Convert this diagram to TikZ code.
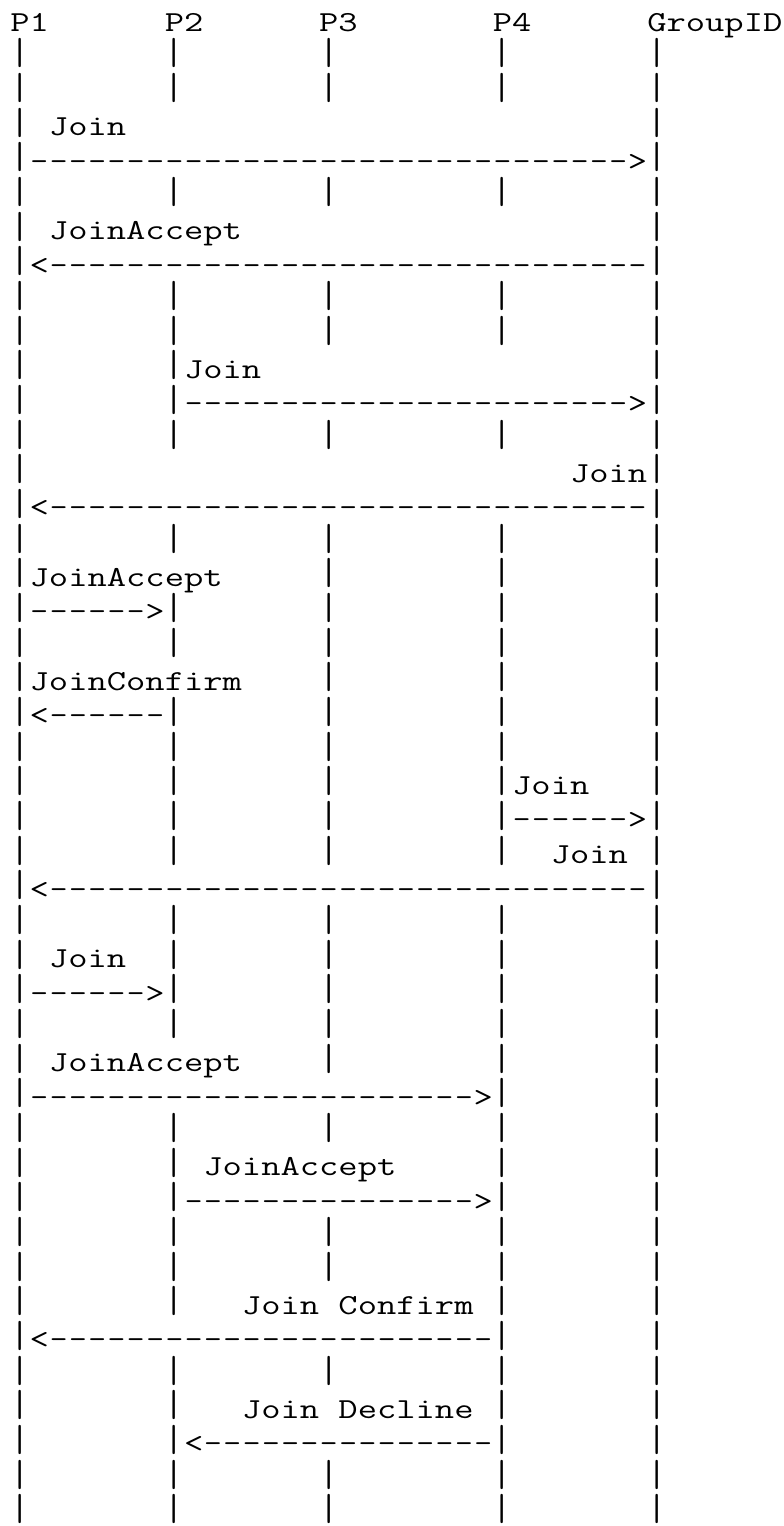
\documentclass[tikz,border=0pt]{standalone}
\usepackage{fontspec}
\usetikzlibrary{positioning}
% vertical bar and dash glyphs, adjusted a little to match the reference's Courier
\newcommand\asciiB{\hbox to \fontcharwd\font`\|{\hss\raisebox{1.5pt}{\scalebox{1}[1.3]{|}}\hss}}
\newcommand\asciiD{\hbox to \fontcharwd\font`\-{\hss\scalebox{0.92}[1]{-}\hss}}
\newcommand\asciichar[1]{\ifx#1|\asciiB\else\ifx#1-\asciiD\else#1\fi\fi}
\def\asciiscan#1{\ifx#1\relax\else\asciichar#1\expandafter\asciiscan\fi}
\newcommand\asciiline[1]{\scalebox{1.2922}[1]{\asciiscan#1\relax}}
\tikzset{
  asciirow/.style={anchor=base west, inner sep=0pt, outer sep=0pt,
    font=\fontsize{29}{34.67}\selectfont\ttfamily, text=black},
}
\begin{document}
\begin{tikzpicture}[x=1pt,y=1pt]
\useasboundingbox (0,0) rectangle (784,-1526);
\fill[white] (0,0) rectangle (784,-1526);
\def\rx{10.4}
\def\ry{31.5}
\def\rp{34.67}
\node[asciirow] (r0) at (\rx,-\ry-0*\rp) {\asciiline{P1~~~~~~P2~~~~~~P3~~~~~~~P4~~~~~~GroupID}};
\node[asciirow] (r1) at (\rx,-\ry-1*\rp) {\asciiline{|~~~~~~~|~~~~~~~|~~~~~~~~|~~~~~~~|}};
\node[asciirow] (r2) at (\rx,-\ry-2*\rp) {\asciiline{|~~~~~~~|~~~~~~~|~~~~~~~~|~~~~~~~|}};
\node[asciirow] (r3) at (\rx,-\ry-3*\rp) {\asciiline{|~Join~~~~~~~~~~~~~~~~~~~~~~~~~~~|}};
\node[asciirow] (r4) at (\rx,-\ry-4*\rp) {\asciiline{|------------------------------->|}};
\node[asciirow] (r5) at (\rx,-\ry-5*\rp) {\asciiline{|~~~~~~~|~~~~~~~|~~~~~~~~|~~~~~~~|}};
\node[asciirow] (r6) at (\rx,-\ry-6*\rp) {\asciiline{|~JoinAccept~~~~~~~~~~~~~~~~~~~~~|}};
\node[asciirow] (r7) at (\rx,-\ry-7*\rp) {\asciiline{|<-------------------------------|}};
\node[asciirow] (r8) at (\rx,-\ry-8*\rp) {\asciiline{|~~~~~~~|~~~~~~~|~~~~~~~~|~~~~~~~|}};
\node[asciirow] (r9) at (\rx,-\ry-9*\rp) {\asciiline{|~~~~~~~|~~~~~~~|~~~~~~~~|~~~~~~~|}};
\node[asciirow] (r10) at (\rx,-\ry-10*\rp) {\asciiline{|~~~~~~~|Join~~~~~~~~~~~~~~~~~~~~|}};
\node[asciirow] (r11) at (\rx,-\ry-11*\rp) {\asciiline{|~~~~~~~|----------------------->|}};
\node[asciirow] (r12) at (\rx,-\ry-12*\rp) {\asciiline{|~~~~~~~|~~~~~~~|~~~~~~~~|~~~~~~~|}};
\node[asciirow] (r13) at (\rx,-\ry-13*\rp) {\asciiline{|~~~~~~~~~~~~~~~~~~~~~~~~~~~~Join|}};
\node[asciirow] (r14) at (\rx,-\ry-14*\rp) {\asciiline{|<-------------------------------|}};
\node[asciirow] (r15) at (\rx,-\ry-15*\rp) {\asciiline{|~~~~~~~|~~~~~~~|~~~~~~~~|~~~~~~~|}};
\node[asciirow] (r16) at (\rx,-\ry-16*\rp) {\asciiline{|JoinAccept~~~~~|~~~~~~~~|~~~~~~~|}};
\node[asciirow] (r17) at (\rx,-\ry-17*\rp) {\asciiline{|------>|~~~~~~~|~~~~~~~~|~~~~~~~|}};
\node[asciirow] (r18) at (\rx,-\ry-18*\rp) {\asciiline{|~~~~~~~|~~~~~~~|~~~~~~~~|~~~~~~~|}};
\node[asciirow] (r19) at (\rx,-\ry-19*\rp) {\asciiline{|JoinConfirm~~~~|~~~~~~~~|~~~~~~~|}};
\node[asciirow] (r20) at (\rx,-\ry-20*\rp) {\asciiline{|<------|~~~~~~~|~~~~~~~~|~~~~~~~|}};
\node[asciirow] (r21) at (\rx,-\ry-21*\rp) {\asciiline{|~~~~~~~|~~~~~~~|~~~~~~~~|~~~~~~~|}};
\node[asciirow] (r22) at (\rx,-\ry-22*\rp) {\asciiline{|~~~~~~~|~~~~~~~|~~~~~~~~|Join~~~|}};
\node[asciirow] (r23) at (\rx,-\ry-23*\rp) {\asciiline{|~~~~~~~|~~~~~~~|~~~~~~~~|------>|}};
\node[asciirow] (r24) at (\rx,-\ry-24*\rp) {\asciiline{|~~~~~~~|~~~~~~~|~~~~~~~~|~~Join~|}};
\node[asciirow] (r25) at (\rx,-\ry-25*\rp) {\asciiline{|<-------------------------------|}};
\node[asciirow] (r26) at (\rx,-\ry-26*\rp) {\asciiline{|~~~~~~~|~~~~~~~|~~~~~~~~|~~~~~~~|}};
\node[asciirow] (r27) at (\rx,-\ry-27*\rp) {\asciiline{|~Join~~|~~~~~~~|~~~~~~~~|~~~~~~~|}};
\node[asciirow] (r28) at (\rx,-\ry-28*\rp) {\asciiline{|------>|~~~~~~~|~~~~~~~~|~~~~~~~|}};
\node[asciirow] (r29) at (\rx,-\ry-29*\rp) {\asciiline{|~~~~~~~|~~~~~~~|~~~~~~~~|~~~~~~~|}};
\node[asciirow] (r30) at (\rx,-\ry-30*\rp) {\asciiline{|~JoinAccept~~~~|~~~~~~~~|~~~~~~~|}};
\node[asciirow] (r31) at (\rx,-\ry-31*\rp) {\asciiline{|----------------------->|~~~~~~~|}};
\node[asciirow] (r32) at (\rx,-\ry-32*\rp) {\asciiline{|~~~~~~~|~~~~~~~|~~~~~~~~|~~~~~~~|}};
\node[asciirow] (r33) at (\rx,-\ry-33*\rp) {\asciiline{|~~~~~~~|~JoinAccept~~~~~|~~~~~~~|}};
\node[asciirow] (r34) at (\rx,-\ry-34*\rp) {\asciiline{|~~~~~~~|--------------->|~~~~~~~|}};
\node[asciirow] (r35) at (\rx,-\ry-35*\rp) {\asciiline{|~~~~~~~|~~~~~~~|~~~~~~~~|~~~~~~~|}};
\node[asciirow] (r36) at (\rx,-\ry-36*\rp) {\asciiline{|~~~~~~~|~~~~~~~|~~~~~~~~|~~~~~~~|}};
\node[asciirow] (r37) at (\rx,-\ry-37*\rp) {\asciiline{|~~~~~~~|~~~Join~Confirm~|~~~~~~~|}};
\node[asciirow] (r38) at (\rx,-\ry-38*\rp) {\asciiline{|<-----------------------|~~~~~~~|}};
\node[asciirow] (r39) at (\rx,-\ry-39*\rp) {\asciiline{|~~~~~~~|~~~~~~~|~~~~~~~~|~~~~~~~|}};
\node[asciirow] (r40) at (\rx,-\ry-40*\rp) {\asciiline{|~~~~~~~|~~~Join~Decline~|~~~~~~~|}};
\node[asciirow] (r41) at (\rx,-\ry-41*\rp) {\asciiline{|~~~~~~~|<---------------|~~~~~~~|}};
\node[asciirow] (r42) at (\rx,-\ry-42*\rp) {\asciiline{|~~~~~~~|~~~~~~~|~~~~~~~~|~~~~~~~|}};
\node[asciirow] (r43) at (\rx,-\ry-43*\rp) {\asciiline{|~~~~~~~|~~~~~~~|~~~~~~~~|~~~~~~~|}};
\end{tikzpicture}
\end{document}
